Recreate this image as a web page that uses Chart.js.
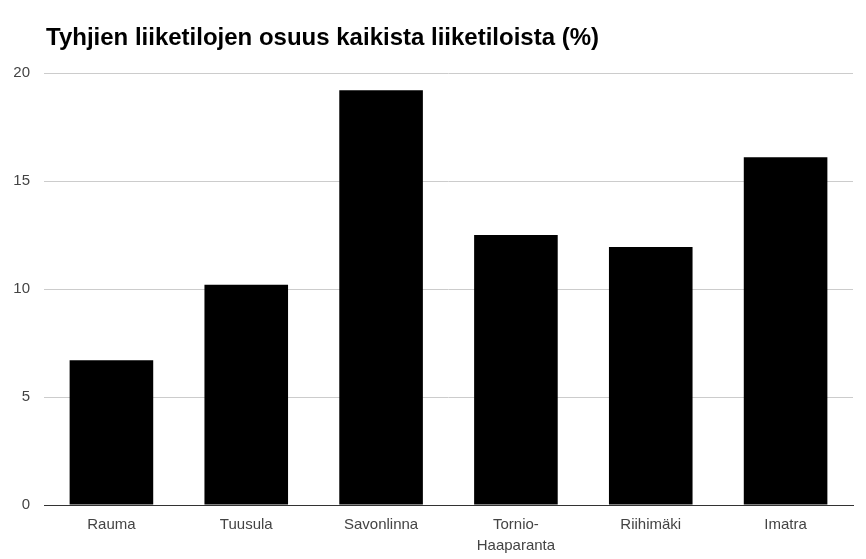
<!DOCTYPE html>
<html>
<head>
    <meta charset="utf-8">
    <title>Tyhjien liiketilojen osuus</title>
    <style>
        html, body { margin: 0; padding: 0; background: #fff; }
        #wrap { position: relative; width: 866px; height: 559px; }
        #title {
            position: absolute; left: 46px; top: 25px;
            font: bold 24px/24px Arial, "Liberation Sans", sans-serif;
            color: #000; white-space: nowrap;
        }
        #chart { position: absolute; left: 0; top: 0; width: 866px; height: 559px; }
    </style>
</head>
<body>
    <div id="wrap">
        <div id="chart">
            <canvas id="myChart"></canvas>
        </div>
        <div id="title">Tyhjien liiketilojen osuus kaikista liiketiloista (%)</div>
    </div>
<script src="https://cdn.jsdelivr.net/npm/chart.js@4/dist/chart.umd.min.js"></script>
<script>
    const labels = ['Rauma', 'Tuusula', 'Savonlinna', ['Tornio-', 'Haaparanta'], 'Riihimäki', 'Imatra'];
    const values = [6.7, 10.2, 19.2, 12.5, 11.95, 16.1];
    const yTicks = [0, 5, 10, 15, 20];

    const ctx = document.getElementById('myChart').getContext('2d');

    const myChart = new Chart(ctx, {
        type: 'bar',
        data: {
            labels: labels,
            datasets: [{
                label: 'Tyhjien liiketilojen osuus',
                data: values,
                backgroundColor: '#000000',
                categoryPercentage: 0.62,
                barPercentage: 1.0
            }]
        },
        options: {
            responsive: true,
            maintainAspectRatio: false,
            animation: false,
            layout: {
                padding: { left: 0, right: 13, top: 73, bottom: 2 }
            },
            plugins: {
                legend: { display: false },
                tooltip: { enabled: false },
                title: { display: false }
            },
            scales: {
                x: {
                    grid: { display: false },
                    border: { display: true, color: '#333', width: 1 },
                    ticks: {
                        color: '#444',
                        font: { family: 'Arial, "Liberation Sans"', size: 15, lineHeight: 1.4 },
                        padding: 1,
                        maxRotation: 0
                    }
                },
                y: {
                    min: 0,
                    max: 20,
                    afterBuildTicks: function (axis) {
                        axis.ticks = yTicks.map(v => ({ value: v }));
                    },
                    afterFit: function (axis) {
                        axis.width = 44;
                    },
                    grid: { color: '#cccccc', drawTicks: false },
                    border: { display: false },
                    ticks: {
                        color: '#444',
                        font: { family: 'Arial, "Liberation Sans"', size: 15 },
                        padding: 14
                    }
                }
            }
        }
    });
</script>
</body>
</html>
